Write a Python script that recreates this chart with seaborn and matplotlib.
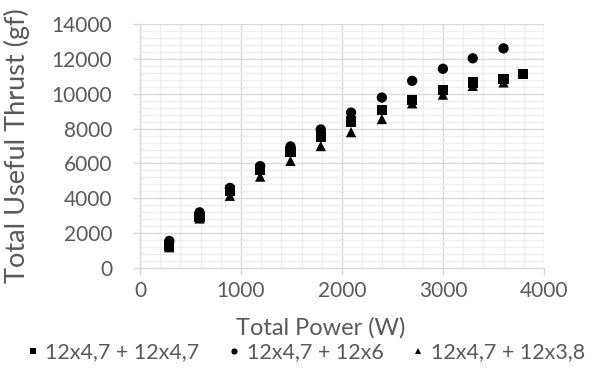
import matplotlib
matplotlib.use("Agg")
import matplotlib.pyplot as plt
from matplotlib.ticker import MultipleLocator
import seaborn as sns
import pandas as pd

series_names = ["12x4,7 + 12x4,7", "12x4,7 + 12x6", "12x4,7 + 12x3,8"]

power_sq = [290, 590, 890, 1190, 1490, 1790, 2090, 2395, 2695, 3000, 3295, 3600, 3790]
thrust_sq = [1300, 2950, 4450, 5650, 6650, 7550, 8400, 9050, 9650, 10200, 10650, 10850, 11150]

power_ci = [290, 590, 890, 1190, 1490, 1790, 2090, 2395, 2695, 3000, 3295, 3600]
thrust_ci = [1560, 3200, 4600, 5850, 6980, 7950, 8920, 9780, 10740, 11430, 12030, 12600]

power_tr = [290, 590, 890, 1190, 1490, 1790, 2090, 2395, 2695, 3000, 3295, 3600]
thrust_tr = [1200, 2850, 4150, 5250, 6150, 7000, 7800, 8550, 9450, 9950, 10450, 10650]

df = pd.concat([
    pd.DataFrame({"power": power_sq, "thrust": thrust_sq, "series": series_names[0]}),
    pd.DataFrame({"power": power_ci, "thrust": thrust_ci, "series": series_names[1]}),
    pd.DataFrame({"power": power_tr, "thrust": thrust_tr, "series": series_names[2]}),
])

sns.set_style("white")
plt.rcParams["font.family"] = ["Lato", "DejaVu Sans"]
txt = "#595959"
grid_major = "#d9d9d9"
grid_minor = "#efefef"

fig = plt.figure(figsize=(6.01, 3.74), dpi=100)
ax = fig.add_axes([0.233, 0.283, 0.672, 0.653])

sns.scatterplot(data=df, x="power", y="thrust", style="series",
                markers={series_names[0]: "s", series_names[1]: "o", series_names[2]: "^"},
                color="black", s=55, linewidth=0, ax=ax, legend=True, zorder=3)

ax.set_xlim(0, 4000)
ax.set_ylim(0, 14000)
ax.xaxis.set_major_locator(MultipleLocator(1000))
ax.xaxis.set_minor_locator(MultipleLocator(200))
ax.yaxis.set_major_locator(MultipleLocator(2000))
ax.yaxis.set_minor_locator(MultipleLocator(400))
ax.grid(True, which="minor", color=grid_minor, linewidth=1, zorder=0)
ax.grid(True, which="major", color=grid_major, linewidth=1, zorder=1)
ax.set_axisbelow(True)
for side in ["top", "right"]:
    ax.spines[side].set_visible(False)
for side in ["left", "bottom"]:
    ax.spines[side].set_color(grid_major)
    ax.spines[side].set_linewidth(1)
ax.tick_params(which="major", direction="out", length=5, width=1, color=grid_major,
               labelsize=15, labelcolor=txt, left=True, bottom=True)
ax.tick_params(axis="y", which="major", pad=15)
ax.tick_params(axis="x", which="major", pad=4)
ax.tick_params(which="minor", length=0)

ax.set_xlabel("Total Power (W)", fontsize=17, color=txt)
ax.set_ylabel("Total Useful Thrust (gf)", fontsize=19.5, color=txt)
ax.xaxis.set_label_coords(0.448, -0.2)
ax.yaxis.set_label_coords(-0.272, 0.5)

handles, labels = ax.get_legend_handles_labels()
ax.get_legend().remove()
fig.legend(handles, labels, loc="center", bbox_to_anchor=(0.505, 0.058), ncol=3,
           frameon=False, fontsize=15.5, labelcolor=txt, handletextpad=0.1,
           columnspacing=1.1, markerscale=0.6, handlelength=1.0, borderaxespad=0)

fig.savefig("out.png", dpi=100)
